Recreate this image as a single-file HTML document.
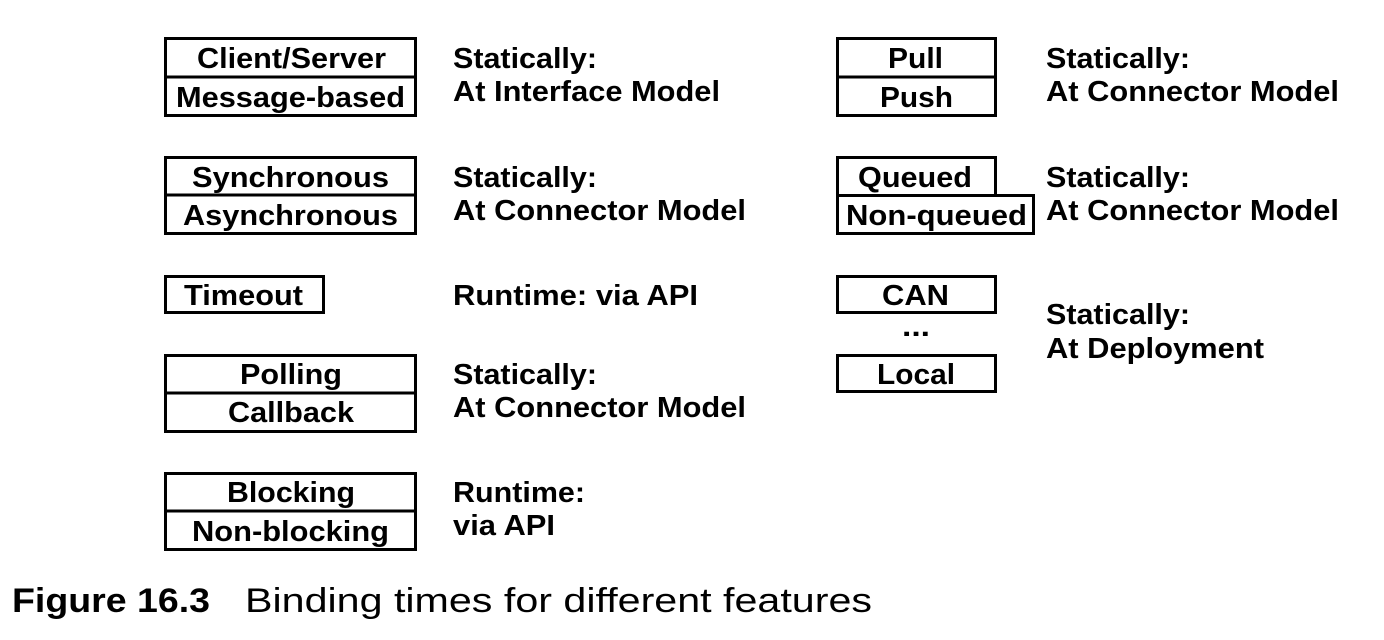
<!DOCTYPE html>
<html><head><meta charset="utf-8"><style>
html,body{margin:0;padding:0;background:#fff;}
svg{display:block}
text{font-family:"Liberation Sans",Arial,sans-serif;font-weight:bold;fill:#000;}
</style></head><body>
<svg width="1384" height="640" viewBox="0 0 1384 640" xmlns="http://www.w3.org/2000/svg">
<g fill="none" stroke="#000" stroke-width="3">
<rect x="165.5" y="38.5" width="250" height="77"/><line x1="165" y1="77" x2="416" y2="77"/>
<rect x="165.5" y="157.5" width="250" height="76"/><line x1="165" y1="195" x2="416" y2="195"/>
<rect x="165.5" y="276.5" width="158" height="36"/>
<rect x="165.5" y="355.5" width="250" height="76"/><line x1="165" y1="393" x2="416" y2="393"/>
<rect x="165.5" y="473.5" width="250" height="76"/><line x1="165" y1="511" x2="416" y2="511"/>
<rect x="837.5" y="38.5" width="158" height="77"/><line x1="837" y1="77" x2="996" y2="77"/>
<rect x="837.5" y="157.5" width="158" height="38"/>
<rect x="837.5" y="195.5" width="196" height="38"/>
<rect x="837.5" y="276.5" width="158" height="36"/>
<rect x="837.5" y="355.5" width="158" height="36"/>
</g>
<g font-size="29">
<text x="197" y="68" textLength="189" lengthAdjust="spacingAndGlyphs">Client/Server</text>
<text x="176" y="107" textLength="229" lengthAdjust="spacingAndGlyphs">Message-based</text>
<text x="192" y="187" textLength="197" lengthAdjust="spacingAndGlyphs">Synchronous</text>
<text x="183" y="225" textLength="215" lengthAdjust="spacingAndGlyphs">Asynchronous</text>
<text x="184" y="305" textLength="119" lengthAdjust="spacingAndGlyphs">Timeout</text>
<text x="240" y="384" textLength="102" lengthAdjust="spacingAndGlyphs">Polling</text>
<text x="228" y="422" textLength="126" lengthAdjust="spacingAndGlyphs">Callback</text>
<text x="227" y="502" textLength="128" lengthAdjust="spacingAndGlyphs">Blocking</text>
<text x="192" y="541" textLength="197" lengthAdjust="spacingAndGlyphs">Non-blocking</text>
<text x="888" y="68" textLength="55" lengthAdjust="spacingAndGlyphs">Pull</text>
<text x="880" y="107" textLength="73" lengthAdjust="spacingAndGlyphs">Push</text>
<text x="858" y="187" textLength="114" lengthAdjust="spacingAndGlyphs">Queued</text>
<text x="846" y="225" textLength="181" lengthAdjust="spacingAndGlyphs">Non-queued</text>
<text x="882" y="305" textLength="67" lengthAdjust="spacingAndGlyphs">CAN</text>
<text x="902" y="336" textLength="28" lengthAdjust="spacingAndGlyphs">...</text>
<text x="877" y="384" textLength="78" lengthAdjust="spacingAndGlyphs">Local</text>
</g>
<g font-size="29">
<text x="453" y="68" textLength="144" lengthAdjust="spacingAndGlyphs">Statically:</text>
<text x="453" y="101" textLength="267" lengthAdjust="spacingAndGlyphs">At Interface Model</text>
<text x="453" y="187" textLength="144" lengthAdjust="spacingAndGlyphs">Statically:</text>
<text x="453" y="220" textLength="293" lengthAdjust="spacingAndGlyphs">At Connector Model</text>
<text x="453" y="305" textLength="245" lengthAdjust="spacingAndGlyphs">Runtime: via API</text>
<text x="453" y="384" textLength="144" lengthAdjust="spacingAndGlyphs">Statically:</text>
<text x="453" y="417" textLength="293" lengthAdjust="spacingAndGlyphs">At Connector Model</text>
<text x="453" y="502" textLength="132" lengthAdjust="spacingAndGlyphs">Runtime:</text>
<text x="453" y="535" textLength="102" lengthAdjust="spacingAndGlyphs">via API</text>
<text x="1046" y="68" textLength="144" lengthAdjust="spacingAndGlyphs">Statically:</text>
<text x="1046" y="101" textLength="293" lengthAdjust="spacingAndGlyphs">At Connector Model</text>
<text x="1046" y="187" textLength="144" lengthAdjust="spacingAndGlyphs">Statically:</text>
<text x="1046" y="220" textLength="293" lengthAdjust="spacingAndGlyphs">At Connector Model</text>
<text x="1046" y="324" textLength="144" lengthAdjust="spacingAndGlyphs">Statically:</text>
<text x="1046" y="358" textLength="218" lengthAdjust="spacingAndGlyphs">At Deployment</text>
</g>
<text x="12" y="612" font-size="34" textLength="198" lengthAdjust="spacingAndGlyphs">Figure 16.3</text>
<text x="245" y="612" font-size="34" style="font-weight:normal" textLength="627" lengthAdjust="spacingAndGlyphs">Binding times for different features</text>
</svg>
</body></html>
